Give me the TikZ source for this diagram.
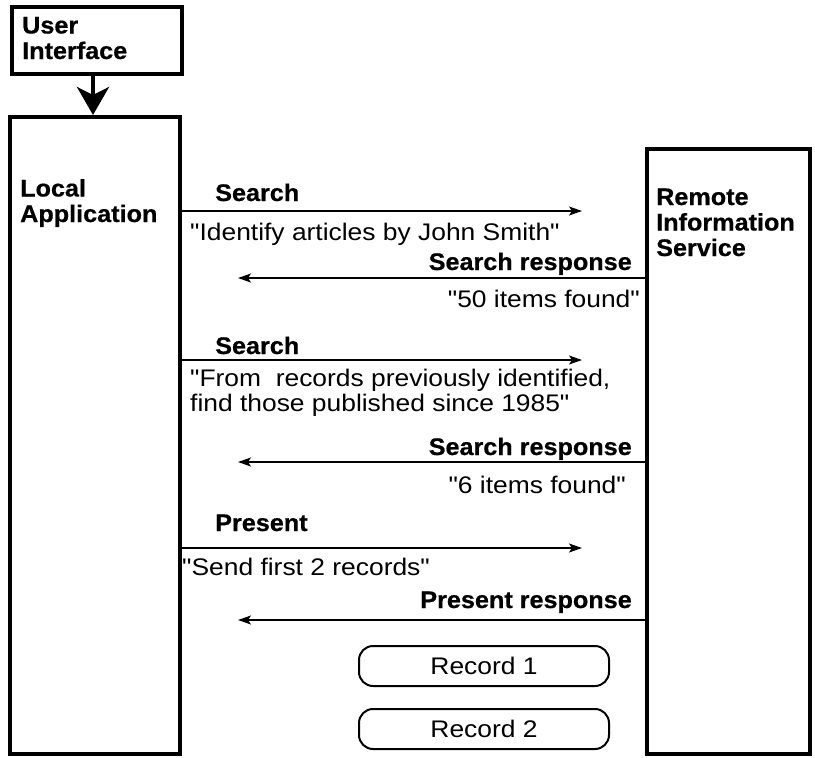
\documentclass[tikz,border=0pt]{standalone}
\usepackage{fontspec}
\setmainfont{Liberation Sans}
\newfontfamily\regfam{Liberation Sans}[FakeStretch=1.1]
\newfontfamily\boldfam{Liberation Sans}[FakeStretch=1.05, FakeBold=0.6]
\usetikzlibrary{arrows.meta}
\begin{document}
\begin{tikzpicture}[x=1pt,y=-1pt,
  box/.style={draw, line width=3.5pt, anchor=north west, inner sep=0pt},
  recbox/.style={draw, line width=2pt, rounded corners=14pt, anchor=north west, inner sep=0pt, minimum width=250pt, minimum height=40pt},
  boldtxt/.style={font=\fontsize{24}{25.5}\selectfont\boldfam\bfseries, inner sep=0pt, align=left},
  regtxt/.style={font=\fontsize{24}{25}\selectfont\regfam, inner sep=0pt, align=left},
  msg/.style={line width=1.6pt, -{Stealth[length=13pt, width=9pt, inset=3pt]}},
  bigarrow/.style={line width=4pt, -{Stealth[length=28pt, width=32pt, inset=8pt]}}
]
\useasboundingbox (0,0) rectangle (815,758);
% boxes
\node[box, minimum width=170pt, minimum height=67pt] (ui) at (10,5) {};
\node[box, minimum width=170pt, minimum height=637pt] (local) at (8,115) {};
\node[box, minimum width=163pt, minimum height=605pt] (remote) at (645,147) {};
% box labels
\node[boldtxt, anchor=base west] (uitxt) at (22,59) {User\\Interface};
\node[boldtxt, anchor=base west] (localtxt) at (20,222) {Local\\Application};
\node[boldtxt, anchor=base west] (remotetxt) at (656,256) {Remote\\Information\\Service};
% UI -> local
\draw[bigarrow] (ui.south -| 93,0) -- (local.north -| 93,0);
% message endpoints
\coordinate (m1a) at (178,211); \coordinate (m1b) at (582,211);
\coordinate (m2a) at (645,278); \coordinate (m2b) at (238,278);
\coordinate (m3a) at (178,360); \coordinate (m3b) at (582,360);
\coordinate (m4a) at (645,462); \coordinate (m4b) at (238,462);
\coordinate (m5a) at (178,548); \coordinate (m5b) at (582,548);
\coordinate (m6a) at (645,620); \coordinate (m6b) at (238,620);
\draw[msg] (m1a) -- (m1b);
\draw[msg] (m2a) -- (m2b);
\draw[msg] (m3a) -- (m3b);
\draw[msg] (m4a) -- (m4b);
\draw[msg] (m5a) -- (m5b);
\draw[msg] (m6a) -- (m6b);
% message labels
\node[boldtxt, anchor=base west] (l1) at (215,201) {Search};
\node[regtxt, anchor=base west] (t1) at (190,240) {"Identify articles by John Smith"};
\node[boldtxt, anchor=base east] (l2) at (632,270) {Search response};
\node[regtxt, anchor=base east] (t2) at (640,307) {"50 items found"};
\node[boldtxt, anchor=base west] (l3) at (215,354) {Search};
\node[regtxt, anchor=base west] (t3) at (190,411) {"From~ records previously identified,\\find those published since 1985"};
\node[boldtxt, anchor=base east] (l4) at (632,455) {Search response};
\node[regtxt, anchor=base east] (t4) at (626,493) {"6 items found"};
\node[boldtxt, anchor=base west] (l5) at (215,531) {Present};
\node[regtxt, anchor=base west] (t5) at (182,575) {"Send first 2 records"};
\node[boldtxt, anchor=base east] (l6) at (632,608) {Present response};
% records
\node[recbox] (rec1) at (358,645) {};
\node[regtxt] (rec1txt) at (rec1.center) {Record 1};
\node[recbox] (rec2) at (358,708) {};
\node[regtxt] (rec2txt) at (rec2.center) {Record 2};
\end{tikzpicture}
\end{document}
